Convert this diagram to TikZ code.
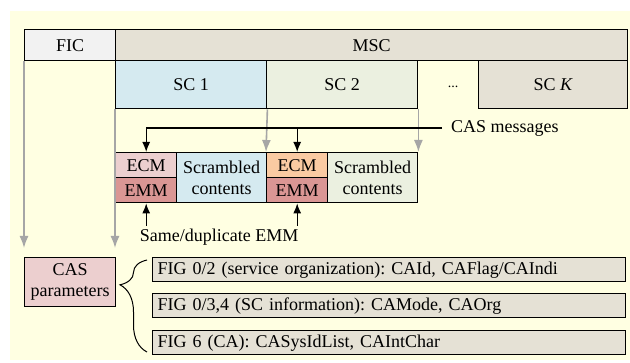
\documentclass[tikz,border=0pt]{standalone}
\usepackage{fontspec}
\setmainfont{Liberation Serif}
\usepackage{xcolor}
\usepackage{tikz}
\usetikzlibrary{arrows.meta,shapes,decorations.pathreplacing,positioning}
\frenchspacing
\definecolor{bgyellow}{RGB}{255,255,226}
\definecolor{ficgray}{RGB}{242,242,242}
\definecolor{mscgray}{RGB}{229,225,213}
\definecolor{scblue}{RGB}{213,234,240}
\definecolor{scgreen}{RGB}{235,240,224}
\definecolor{ecmpink}{RGB}{236,207,207}
\definecolor{emmred}{RGB}{218,150,148}
\definecolor{ecmorange}{RGB}{250,202,162}
\definecolor{arrowgray}{RGB}{166,166,166}
\tikzstyle{cell} = [rectangle, anchor=north west, inner sep=0pt, draw=black, line width=1.4pt, align=center]
\tikzstyle{figrow} = [rectangle, anchor=north west, inner xsep=5pt, inner ysep=0pt, text width=463pt, minimum height=24pt, draw=black, line width=1.4pt, fill=mscgray, align=left]
\tikzstyle{grayArrow} = [-{Latex[length=12pt,width=9pt]}, line width=1.6pt, draw=arrowgray, fill=arrowgray]
\tikzstyle{blackArrow} = [-{Latex[length=10pt,width=8pt]}, line width=1.2pt]

\begin{document}
\begin{tikzpicture}[x=1pt, y=-1pt, font=\rmfamily\fontsize{18}{21}\selectfont]

\useasboundingbox (0,0) rectangle (630,363);
\fill[bgyellow] (10,11) rectangle (630,360);

\node (fic) [cell, fill=ficgray, minimum width=91pt, minimum height=31pt] at (24,29) {FIC};
\node (msc) [cell, fill=mscgray, minimum width=512pt, minimum height=31pt] at (115,29) {MSC};
\node (sc1) [cell, fill=scblue, minimum width=151pt, minimum height=48pt] at (115,60) {SC 1};
\node (sc2) [cell, fill=scgreen, minimum width=151pt, minimum height=48pt] at (266,60) {SC 2};
\node (dots) [font=\rmfamily\fontsize{14}{16}\selectfont] at (453,87) {...};
\node (sck) [cell, fill=mscgray, minimum width=149pt, minimum height=48pt] at (478,60) {SC \textit{K}};

\node (ecm1) [cell, fill=ecmpink, minimum width=61pt, minimum height=25pt] at (115,152) {ECM};
\node (emm1) [cell, fill=emmred, minimum width=61pt, minimum height=25pt] at (115,177) {EMM};
\node (scr1) [cell, fill=scblue, minimum width=90pt, minimum height=50pt] at (176,152) {Scrambled\\contents};
\node (ecm2) [cell, fill=ecmorange, minimum width=61pt, minimum height=25pt] at (266,152) {ECM};
\node (emm2) [cell, fill=emmred, minimum width=61pt, minimum height=25pt] at (266,177) {EMM};
\node (scr2) [cell, fill=scgreen, minimum width=90pt, minimum height=50pt] at (327,152) {Scrambled\\contents};

\node (casmsg) [anchor=west, inner xsep=9pt, inner ysep=0pt] at (442,128) {CAS messages};
\node (same) [inner xsep=0pt, inner ysep=3pt] at (219,237) {Same/duplicate EMM};

\node (caspar) [cell, fill=ecmpink, minimum width=91pt, minimum height=49pt] at (24,257) {CAS\\parameters};
\node (fig1) [figrow] at (152,257) {FIG 0/2 (service organization): CAId, CAFlag/CAIndi};
\node (fig2) [figrow] at (152,293) {FIG 0/3,4 (SC information): CAMode, CAOrg};
\node (fig3) [figrow] at (152,330) {FIG 6 (CA): CASysIdList, CAIntChar};

\coordinate (ficend) at (24,248);
\coordinate (sc1end) at (115,248);

\draw[grayArrow] (fic.south west) -- (ficend);
\draw[grayArrow] (sc1.south west) -- (sc1end);
\draw[grayArrow] (sc1.south east) -- (ecm2.north west);
\draw[grayArrow] (sc2.south east) -- (scr2.north east);

\draw[blackArrow] (casmsg.west) -| (ecm1.north);
\draw[blackArrow] (casmsg.west -| ecm2.north) -- (ecm2.north);

\draw[blackArrow] (same.north -| emm1.south) -- (emm1.south);
\draw[blackArrow] (same.north -| emm2.south) -- (emm2.south);

\draw[line width=1pt, decorate, decoration={brace, amplitude=27pt, aspect=0.73}] (147,352) -- (147,260);

\end{tikzpicture}
\end{document}
